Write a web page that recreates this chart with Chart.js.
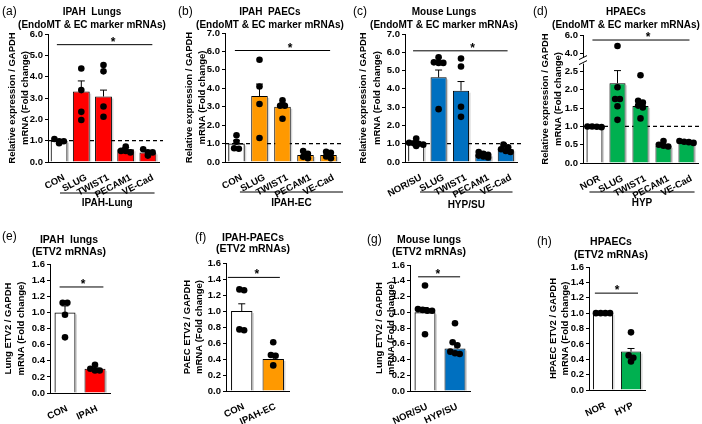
<!DOCTYPE html>
<html>
<head>
<meta charset="utf-8">
<script src="https://cdn.jsdelivr.net/npm/chart.js@4.4.1/dist/chart.umd.min.js"></script>
<style>
  html, body { margin: 0; padding: 0; background: #fff; }
  #fig { position: relative; width: 702px; height: 424px; overflow: hidden; background: #fff; }
  #fig canvas { position: absolute; }
</style>
</head>
<body>
<div id="fig"></div>
<script>
// (a) IPAH lungs
var aLabels = ['CON', 'SLUG', 'TWIST1', 'PECAM1', 'VE-Cad'];
var aMeans = [1.0, 3.3, 3.07, 0.6, 0.45];
var aSem = [0.05, 0.5, 0.3, 0.08, 0.08];
var aPoints = [[1.08, 0.97, 0.97, 0.88], [4.38, 3.37, 2.35, 1.97], [4.55, 4.25, 2.6, 2.12], [0.72, 0.52, 0.52, 0.45], [0.6, 0.45, 0.45, 0.3]];
var aTicks = [0, 1, 2, 3, 4, 5, 6];

// (b) IPAH PAECs
var bLabels = ['CON', 'SLUG', 'TWIST1', 'PECAM1', 'VE-Cad'];
var bMeans = [1.0, 3.58, 3.0, 0.38, 0.38];
var bSem = [0.18, 0.65, 0.2, 0.1, 0.07];
var bPoints = [[1.45, 1.1, 0.72, 0.75], [5.55, 4.1, 3.15, 1.3], [3.35, 3.05, 3.05, 2.35], [0.6, 0.45, 0.28, 0.2], [0.55, 0.5, 0.3, 0.2]];
var bTicks = [0, 1, 2, 3, 4, 5, 6, 7];

// (c) mouse lungs
var cLabels = ['NOR/SU', 'SLUG', 'TWIST1', 'PECAM1', 'VE-Cad'];
var cMeans = [1.0, 4.63, 3.9, 0.42, 0.7];
var cSem = [0.05, 0.4, 0.5, 0.05, 0.08];
var cPoints = [[1.28, 1.05, 1.0, 0.95, 0.88, 1.02], [5.73, 5.42, 5.42, 5.45, 2.89], [5.66, 5.22, 3.02, 2.47], [0.55, 0.45, 0.4, 0.35, 0.3, 0.25], [0.95, 0.8, 0.7, 0.6, 0.55]];
var cTicks = [0, 1, 2, 3, 4, 5, 6, 7];

// (d) HPAECs (broken axis)
var dLabels = ['NOR', 'SLUG', 'TWIST1', 'PECAM1', 'VE-Cad'];
var dMeans = [1.0, 2.18, 1.56, 0.47, 0.55];
var dSem = [0.01, 0.4, 0.12, 0.03, 0.02];
var dPoints = [[1.0, 0.99, 1.0, 0.98], [4.8, 2.07, 1.75, 1.75, 1.55, 1.18], [2.4, 1.7, 1.65, 1.57, 1.52, 1.22], [0.6, 0.5, 0.47, 0.45], [0.6, 0.58, 0.55, 0.57]];
var dTicks = [0, 0.5, 1, 1.5, 2, 2.5, 4, 6];

// (e)-(h) ETV2
var eLabels = ['CON', 'IPAH'];
var eMeans = [1.0, 0.3];
var eSem = [0.08, 0.02];
var ePoints = [[1.12, 1.12, 0.97, 0.69], [0.35, 0.3, 0.28, 0.28]];

var fLabels = ['CON', 'IPAH-EC'];
var fMeans = [1.0, 0.4];
var fSem = [0.09, 0.07];
var fPoints = [[1.26, 1.27, 0.76, 0.77], [0.61, 0.44, 0.45, 0.32]];

var gLabels = ['NOR/SU', 'HYP/SU'];
var gMeans = [1.0, 0.54];
var gSem = [0.06, 0.06];
var gPoints = [[1.34, 1.04, 1.02, 1.02, 1.03, 0.72], [0.86, 0.62, 0.58, 0.5, 0.47, 0.48]];

var hLabels = ['NOR', 'HYP'];
var hMeans = [1.0, 0.5];
var hSem = [0, 0.04];
var hPoints = [[1.0, 1.0, 1.0, 1.0], [0.75, 0.45, 0.42, 0.37]];

var etvTicks = [0, 0.2, 0.4, 0.6, 0.8, 1.0, 1.2, 1.4, 1.6];

var FONT = "'Liberation Sans', Arial, Helvetica, sans-serif";
Chart.defaults.font.family = FONT;
Chart.defaults.color = '#000';

// squeeze 2.5..4 and stretch 4..6 for the broken axis of (d)
function squashD(v) {
    if (v <= 2.5) return v;
    if (v <= 4) return 2.5 + (v - 2.5) / 1.5 * 0.5;
    return 3 + (v - 4) * 0.25;
}

class BrokenScale extends Chart.LinearScale {
    getPixelForValue(v) {
        if (v === null || v === undefined) return NaN;
        return this.getPixelForDecimal(squashD(v) / squashD(this.max));
    }
}
BrokenScale.id = 'broken';
BrokenScale.defaults = Chart.LinearScale.defaults;
Chart.register(BrokenScale);

var topTitle2 = '(EndoMT & EC marker mRNAs)';
var topY = ['Relative expression / GAPDH', 'mRNA (Fold change)'];

var panels = [
    {letter: '(a)', title: ['IPAH  Lungs', topTitle2], yTitle: topY, labels: aLabels, means: aMeans, sem: aSem, points: aPoints, ticks: aTicks,
        color: '#FF0000', dash: true, sig: {y: 5.5, from: -0.1, to: 4.2, star: 2.43}, group: {text: 'IPAH-Lung', from: 0.04, to: 4.3, y: [193, 203]},
        box: [0, 0, 176, 212], area: [48, 159, 34, 162], letterXY: [2, 12], titleX: 92, titleY: [12, 25], titleSize: 10, yTitleX: [12, 25], rot: 28, lblOff: 5, barPct: 0.76},
    {letter: '(b)', title: ['IPAH  PAECs', topTitle2], yTitle: topY, labels: bLabels, means: bMeans, sem: bSem, points: bPoints, ticks: bTicks,
        color: '#FF9900', dash: true, sig: {y: 6.05, from: -0.07, to: 4.07, star: 2.33}, group: {text: 'IPAH-EC', from: 0.15, to: 4.63, y: [192, 203]},
        box: [176, 0, 174, 212], area: [225, 340, 33, 162], letterXY: [178, 12], titleX: 270, titleY: [12, 25], titleSize: 10, yTitleX: [189, 202], rot: 28, lblOff: 5, barPct: 0.72},
    {letter: '(c)', title: ['Mouse Lungs', topTitle2], yTitle: topY, labels: cLabels, means: cMeans, sem: cSem, points: cPoints, ticks: cTicks,
        color: '#0070C0', dash: true, sig: {y: 6.08, from: -0.14, to: 4.08, star: 2.52}, group: {text: 'HYP/SU', from: 0.17, to: 4.3, y: [192, 205]},
        box: [350, 0, 174, 212], area: [405, 517, 34, 162], letterXY: [353, 12], titleX: 444, titleY: [12, 25], titleSize: 10, yTitleX: [363, 377], rot: 28, lblOff: 5, barPct: 0.72},
    {letter: '(d)', title: ['HPAECs', topTitle2], yTitle: topY, labels: dLabels, means: dMeans, sem: dSem, points: dPoints, ticks: dTicks,
        color: '#00B050', dash: true, broken: true, sig: {y: 5.45, from: -0.09, to: 4.13, star: 2.33}, group: {text: 'HYP', from: -0.22, to: 4.35, y: [192, 203]},
        box: [524, 0, 178, 212], area: [583, 698, 35, 163], letterXY: [533, 12], titleX: 626, titleY: [12, 25], titleSize: 10, yTitleX: [545, 558], rot: 28, lblOff: 5, barPct: 0.7},
    {letter: '(e)', title: ['IPAH  lungs', '(ETV2 mRNAs)'], yTitle: ['Lung ETV2 / GAPDH', 'mRNA (Fold change)'], labels: eLabels, means: eMeans, sem: eSem, points: ePoints, ticks: etvTicks,
        color: '#FF0000', sig: {y: 1.315, from: -0.18, to: 1.28, star: 0.6},
        box: [0, 212, 176, 212], area: [50, 110, 264, 393], letterXY: [2, 237], titleX: 69, titleY: [240, 252], titleSize: 10.5, yTitleX: [8, 21], rot: 25, lblOff: 2, barPct: 0.7},
    {letter: '(f)', title: ['IPAH-PAECs', '(ETV2 mRNAs)'], yTitle: ['PAEC ETV2 / GAPDH', 'mRNA (Fold change)'], labels: fLabels, means: fMeans, sem: fSem, points: fPoints, ticks: etvTicks,
        color: '#FF9900', sig: {y: 1.42, from: -0.44, to: 1.21, star: 0.48},
        box: [176, 212, 174, 212], area: [226, 289, 263, 391], letterXY: [195, 238], titleX: 253, titleY: [238, 249], titleSize: 10.5, yTitleX: [187, 199], rot: 25, lblOff: 2, barPct: 0.68},
    {letter: '(g)', title: ['Mouse lungs', '(ETV2 mRNAs)'], yTitle: ['Lung ETV2 / GAPDH', 'mRNA (Fold change)'], labels: gLabels, means: gMeans, sem: gSem, points: gPoints, ticks: etvTicks,
        color: '#0070C0', sig: {y: 1.45, from: -0.23, to: 1.17, star: 0.43},
        box: [350, 212, 174, 212], area: [410, 470, 265, 391], letterXY: [367, 240], titleX: 429, titleY: [240, 252], titleSize: 10.5, yTitleX: [379, 391], rot: 25, lblOff: 2, barPct: 0.7},
    {letter: '(h)', title: ['HPAECs', '(ETV2 mRNAs)'], yTitle: ['HPAEC ETV2 / GAPDH', 'mRNA (Fold change)'], labels: hLabels, means: hMeans, sem: hSem, points: hPoints, ticks: etvTicks,
        color: '#00B050', sig: {y: 1.26, from: -0.29, to: 1.25, star: 0.5},
        box: [524, 212, 178, 212], area: [589, 645, 267, 390], letterXY: [537, 242], titleX: 611, titleY: [242, 255], titleSize: 10.5, yTitleX: [553, 565], rot: 25, lblOff: 2, barPct: 0.72}
];

// dots closer than a few pixels in height share a row and are spread sideways
function swarm(vals, ppu, sq) {
    var near = 3.5, gap = 4.7, cap = 4;
    var sorted = vals.slice().sort(function (a, b) { return b - a; });
    var rows = [], row = null;
    sorted.forEach(function (v) {
        if (row && row.length < cap && (sq(row[0]) - sq(v)) * ppu < near) row.push(v);
        else { row = [v]; rows.push(row); }
    });
    var out = [];
    rows.forEach(function (rw) {
        rw.forEach(function (v, j) { out.push({dx: (j - (rw.length - 1) / 2) * gap, y: v}); });
    });
    return out;
}

function makeDeco(p, L, T) {
    return {
        id: 'deco',
        beforeDatasetsDraw: function (chart) {
            if (!p.dash) return;
            var ctx = chart.ctx, ca = chart.chartArea, y = chart.scales.y.getPixelForValue(1);
            ctx.save();
            ctx.setLineDash([4, 3]);
            ctx.lineWidth = 1.2;
            ctx.strokeStyle = '#000';
            ctx.beginPath();
            ctx.moveTo(ca.left, y);
            ctx.lineTo(ca.right + 4, y);
            ctx.stroke();
            ctx.restore();
        },
        beforeDatasetDraw: function (chart, args) {
            if (args.index !== 1) return;
            var ctx = chart.ctx;
            ctx.save();
            ctx.fillStyle = 'rgba(0,0,0,0.16)';
            args.meta.data.forEach(function (el) {
                var h = el.base - el.y;
                if (h > 3) ctx.fillRect(el.x + el.width / 2, el.y + 2, 1.5, h - 2);
            });
            ctx.restore();
        },
        afterDatasetDraw: function (chart, args) {
            if (args.index !== 1) return;
            var ctx = chart.ctx, ys = chart.scales.y;
            ctx.save();
            ctx.strokeStyle = '#000';
            ctx.lineWidth = 1;
            args.meta.data.forEach(function (el, i) {
                if (!p.sem[i]) return;
                var top = ys.getPixelForValue(p.means[i] + p.sem[i]);
                ctx.beginPath();
                ctx.moveTo(el.x, el.y);
                ctx.lineTo(el.x, top);
                ctx.moveTo(el.x - 3.5, top);
                ctx.lineTo(el.x + 3.5, top);
                ctx.stroke();
            });
            ctx.restore();
        },
        afterDraw: function (chart) {
            var ctx = chart.ctx, xs = chart.scales.x2, ys = chart.scales.y, ca = chart.chartArea;
            ctx.save();
            ctx.fillStyle = '#000';
            ctx.strokeStyle = '#000';
            ctx.lineWidth = 1;

            ctx.font = '12px ' + FONT;
            ctx.textAlign = 'left';
            ctx.textBaseline = 'middle';
            ctx.fillText(p.letter, p.letterXY[0] - L, p.letterXY[1] - T);

            ctx.font = 'bold ' + p.titleSize + 'px ' + FONT;
            ctx.textAlign = 'center';
            p.title.forEach(function (s, i) { ctx.fillText(s, p.titleX - L, p.titleY[i] - T); });

            ctx.font = 'bold 9.5px ' + FONT;
            var yc = (ca.top + ca.bottom) / 2;
            p.yTitle.forEach(function (s, i) {
                ctx.save();
                ctx.translate(p.yTitleX[i] - L, yc);
                ctx.rotate(-Math.PI / 2);
                ctx.fillText(s, 0, 0);
                ctx.restore();
            });

            var sy = ys.getPixelForValue(p.sig.y);
            ctx.beginPath();
            ctx.moveTo(xs.getPixelForValue(p.sig.from), sy);
            ctx.lineTo(xs.getPixelForValue(p.sig.to), sy);
            ctx.stroke();
            ctx.font = 'bold 12px ' + FONT;
            ctx.textBaseline = 'alphabetic';
            ctx.fillText('*', xs.getPixelForValue(p.sig.star), sy + 1);

            if (p.group) {
                var gy = p.group.y[0] - T, x1 = xs.getPixelForValue(p.group.from), x2 = xs.getPixelForValue(p.group.to);
                ctx.beginPath();
                ctx.moveTo(x1, gy);
                ctx.lineTo(x2, gy);
                ctx.stroke();
                ctx.font = 'bold 10px ' + FONT;
                ctx.textBaseline = 'middle';
                ctx.fillText(p.group.text, (x1 + x2) / 2, p.group.y[1] - T);
            }

            if (p.broken) {
                var yb = ys.getPixelForValue(3.4), ax = ca.left;
                ctx.fillStyle = '#fff';
                ctx.fillRect(ax - 1.5, yb - 3, 3, 6);
                ctx.beginPath();
                ctx.moveTo(ax - 4, yb - 1); ctx.lineTo(ax + 4, yb - 5);
                ctx.moveTo(ax - 4, yb + 4); ctx.lineTo(ax + 4, yb);
                ctx.stroke();
            }
            ctx.restore();
        }
    };
}

function makePanel(p) {
    var L = p.box[0], T = p.box[1], W = p.box[2], H = p.box[3];
    var l = p.area[0] - L, r = p.area[1] - L, t = p.area[2] - T, b = p.area[3] - T;
    var cv = document.createElement('canvas');
    cv.width = W;
    cv.height = H;
    cv.style.left = L + 'px';
    cv.style.top = T + 'px';
    cv.style.width = W + 'px';
    cv.style.height = H + 'px';
    document.getElementById('fig').appendChild(cv);

    var n = p.labels.length;
    var sq = p.broken ? squashD : function (v) { return v; };
    var yMax = p.ticks[p.ticks.length - 1];
    var ppu = (b - t) / sq(yMax);
    var cw = (r - l) / n;
    var dots = [];
    p.points.forEach(function (vals, i) {
        swarm(vals, ppu, sq).forEach(function (d) { dots.push({x: i + d.dx / cw, y: d.y}); });
    });
    var fills = p.means.map(function (v, i) { return i === 0 ? 'rgba(255,255,255,0)' : p.color; });

    return new Chart(cv, {
        type: 'bar',
        data: {
            labels: p.labels,
            datasets: [
                {type: 'scatter', data: dots, xAxisID: 'x2', yAxisID: 'y', order: 1,
                    pointRadius: 3.3, backgroundColor: '#000', borderWidth: 0},
                {data: p.means, order: 2, grouped: false, backgroundColor: fills, borderColor: '#000', borderWidth: 1,
                    barPercentage: p.barPct, categoryPercentage: 1}
            ]
        },
        options: {
            responsive: false,
            animation: false,
            events: [],
            layout: {padding: {left: 0, top: t, right: W - r, bottom: 0}},
            plugins: {legend: {display: false}, tooltip: {enabled: false}},
            scales: {
                x: {
                    type: 'category',
                    offset: true,
                    grid: {display: false},
                    border: {color: '#000', width: 1},
                    ticks: {color: '#000', font: {size: 9.5, weight: 'bold'}, autoSkip: false,
                        minRotation: p.rot, maxRotation: p.rot, padding: 2, labelOffset: p.lblOff},
                    afterFit: function (s) { s.height = H - b; }
                },
                // invisible helper axis, laid out with the category axis, for the dot offsets
                x2: {
                    type: 'linear', position: 'bottom', offset: false, min: -0.5, max: n - 0.5,
                    grid: {display: false, offset: false}, border: {display: false}, ticks: {display: false},
                    afterFit: function (s) { s.height = 0; }
                },
                y: {
                    type: p.broken ? 'broken' : 'linear',
                    min: 0,
                    max: yMax,
                    grid: {drawOnChartArea: false, color: '#000', tickLength: 3},
                    border: {color: '#000', width: 1},
                    ticks: {color: '#000', font: {size: 9.5, weight: 'bold'}, padding: 2, autoSkip: false,
                        callback: function (v) { return Number(v).toFixed(1); }},
                    afterBuildTicks: function (s) {
                        s.ticks = p.ticks.map(function (v) { return {value: v}; });
                    },
                    afterFit: function (s) { s.width = l; }
                }
            }
        },
        plugins: [makeDeco(p, L, T)]
    });
}

panels.forEach(makePanel);
</script>
</body>
</html>
